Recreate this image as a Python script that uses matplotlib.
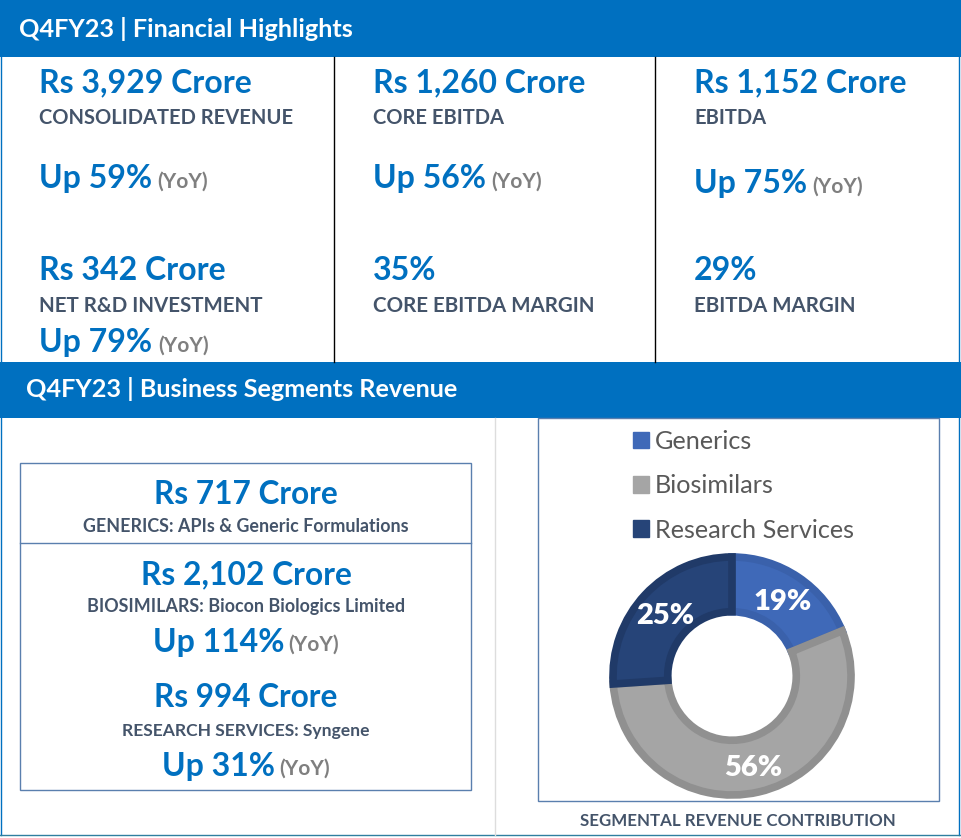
import matplotlib
matplotlib.use('Agg')
import matplotlib.pyplot as plt
from matplotlib.patches import Rectangle, Patch

plt.rcParams['font.family'] = ['Lato', 'DejaVu Sans']

# chart data, the slices follow the segment revenue, the printed labels differ a bit
segments = ['Generics', 'Biosimilars', 'Research Services']
revenue = [717, 2102, 994]
share_labels = ['19%', '56%', '25%']

# text in the tiles
top_values = ['Rs 3,929 Crore', 'Rs 1,260 Crore', 'Rs 1,152 Crore']
top_labels = ['CONSOLIDATED REVENUE', 'CORE EBITDA', 'EBITDA']
top_growth = ['Up 59%', 'Up 56%', 'Up 75%']
low_values = ['Rs 342 Crore', '35%', '29%']
low_labels = ['NET R&D INVESTMENT', 'CORE EBITDA MARGIN', 'EBITDA MARGIN']
rnd_growth = 'Up 79%'
seg_values = ['Rs 717 Crore', 'Rs 2,102 Crore', 'Rs 994 Crore']
seg_labels = ['GENERICS: APIs & Generic Formulations',
              'BIOSIMILARS: Biocon Biologics Limited',
              'RESEARCH SERVICES: Syngene']
seg_growth = ['Up 114%', 'Up 31%']

BLUE = '#0070C0'
SLATE = '#44546A'
GREY = '#7F7F7F'
BOX = '#5A7FAE'
fills = ['#3F69B8', '#A5A5A5', '#264478']
edges = ['#3A61AB', '#909090', '#203A68']

W, H = 961, 838
fig = plt.figure(figsize=(W / 100, H / 100), dpi=100, facecolor='white')

# one axes in pixel coordinates for the layout
ax = fig.add_axes([0, 0, 1, 1])
ax.set_xlim(0, W)
ax.set_ylim(H, 0)
ax.axis('off')

# header bands
ax.add_patch(Rectangle((0, 0), W, 57, color=BLUE, lw=0))
ax.add_patch(Rectangle((0, 362), W, 56, color=BLUE, lw=0))

# frame lines
ax.plot([1, 1], [57, 835], color=BLUE, lw=1)
ax.plot([959, 959], [57, 835], color=BLUE, lw=1)
ax.plot([0, 961], [835, 835], color='#2F7F9F', lw=1)
ax.plot([334, 334], [57, 362], color='black', lw=1)
ax.plot([655, 655], [57, 362], color='black', lw=1)
ax.plot([495, 495], [418, 835], color='#DDDDDD', lw=1)

# segment box and chart box
ax.add_patch(Rectangle((20, 463), 451, 327, fill=False, ec=BOX, lw=1))
ax.plot([20, 471], [543, 543], color=BOX, lw=1)
ax.add_patch(Rectangle((538, 418), 401, 383, fill=False, ec=BOX, lw=1))


def txt(x, y, s, size, color, ha='left'):
    ax.text(x, y, s, fontsize=size, color=color, ha=ha, va='baseline',
            fontweight='bold')


txt(19, 37, 'Q4FY23 | Financial Highlights', 18.2, 'white')
txt(26, 397, 'Q4FY23 | Business Segments Revenue', 18.2, 'white')

col_x = [39, 373, 694]
for i in range(3):
    txt(col_x[i], 92, top_values[i], 23, BLUE)
    txt(col_x[i], 124, top_labels[i], 14.5, SLATE)
    txt(col_x[i], 280, low_values[i], 23, BLUE)
    txt(col_x[i], 312, low_labels[i], 14.8, SLATE)

txt(39, 188, top_growth[0], 23, BLUE)
txt(157, 188, '(YoY)', 15, GREY)
txt(373, 188, top_growth[1], 23, BLUE)
txt(491, 188, '(YoY)', 15, GREY)
txt(694, 193, top_growth[2], 23, BLUE)
txt(812, 193, '(YoY)', 15, GREY)
txt(39, 352, rnd_growth, 23, BLUE)
txt(158, 352, '(YoY)', 15, GREY)

txt(246, 504, seg_values[0], 22.7, BLUE, ha='center')
txt(246, 532, seg_labels[0], 12.85, SLATE, ha='center')
txt(246, 584, seg_values[1], 22.9, BLUE, ha='center')
txt(246, 612, seg_labels[1], 12.85, SLATE, ha='center')
txt(153, 652, seg_growth[0], 23, BLUE)
txt(288, 651, '(YoY)', 15, GREY)
txt(246, 707, seg_values[2], 22.7, BLUE, ha='center')
txt(246, 736, seg_labels[2], 12.6, SLATE, ha='center')
txt(162, 776, seg_growth[1], 23, BLUE)
txt(279, 775, '(YoY)', 15, GREY)

txt(738, 826, 'SEGMENTAL REVENUE CONTRIBUTION', 12.15, SLATE, ha='center')

# donut, pie() fixes limits at +-1.25 of the radius
cx, cy, R = 732, 676, 119
side = 2.5 * R
pie_ax = fig.add_axes([(cx - side / 2) / W, 1 - (cy + side / 2) / H,
                       side / W, side / H])
wedges, _, pct = pie_ax.pie(revenue, startangle=90, counterclock=False,
                            colors=fills, autopct='%.0f%%', pctdistance=0.77,
                            wedgeprops={'width': 0.46, 'linewidth': 5.5})
for w, e in zip(wedges, edges):
    w.set_edgecolor(e)
    w.set_joinstyle('miter')
for t, lab in zip(pct, share_labels):
    t.set_text(lab)
    t.set_color('white')
    t.set_fontsize(21)
    t.set_fontweight('heavy')
    t.set_y(t.get_position()[1] - 0.02)

handles = [Patch(color=c) for c in fills]
ax.legend(handles, segments, loc='upper left', bbox_to_anchor=(628 / W, 1 - 425 / H),
          frameon=False, fontsize=18.2, labelcolor='#595959',
          handlelength=0.63, handleheight=0.63, handletextpad=0.24,
          labelspacing=0.84, borderpad=0.2, borderaxespad=0)

fig.savefig('out.png', dpi=100)
